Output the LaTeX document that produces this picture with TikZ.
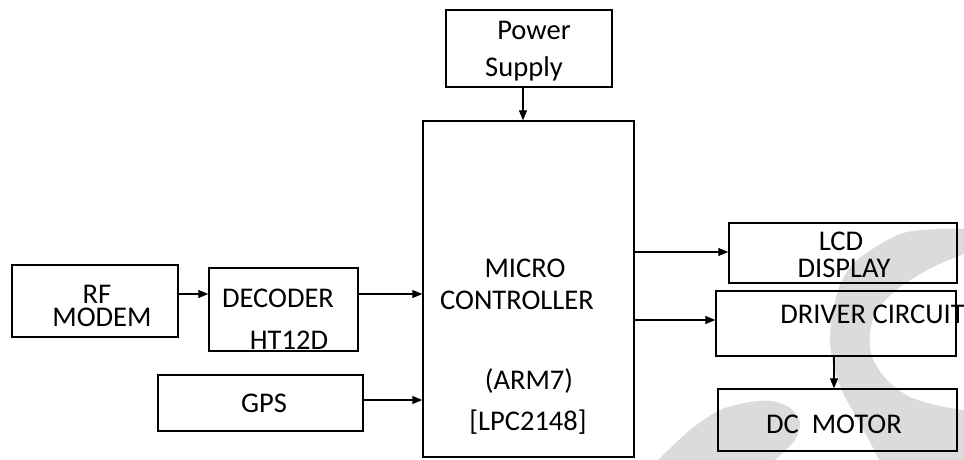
\documentclass[tikz,border=0pt]{standalone}
\usepackage{fontspec}
\setmainfont{Carlito}
\usetikzlibrary{arrows.meta,fit}
\tikzset{
  blk/.style={draw=black, line width=1pt, inner sep=0pt, fit={#1}},
  lbl/.style={anchor=base, inner sep=0pt, font=\fontsize{21.4}{24}\selectfont},
  arr/.style={draw=black, line width=0.8pt, -{Triangle[length=7.5pt,width=6pt]}},
  wm/.style={fill=black!14, draw=none}
}
\begin{document}
\begin{tikzpicture}[x=0.75pt,y=-0.75pt]
\useasboundingbox (0,0) rectangle (964,460);
\fill[white] (0,0) rectangle (964,460);
% watermark
\fill[wm] plot[smooth] coordinates {(964,229) (940,229) (900,234) (857,260) (840,285) (832,317) (830,342) (834,368) (843,393) (857,418) (870,442) (879,460)}
  -- (964,460) -- (964,410)
  -- plot[smooth] coordinates {(964,410) (940,406) (910,397) (887,380) (872,357) (870,333) (877,310) (900,287) (933,267) (964,254)} -- cycle;
\fill[wm] plot[smooth] coordinates {(658,460) (690,430) (720,410) (750,402) (772,401) (790,408) (800,422) (795,440) (775,460)} -- cycle;
% boxes
\node[blk={(12,265)(178,337)}] (rf) {};
\node[blk={(209,268)(358,351)}] (dec) {};
\node[blk={(158,375)(363,431)}] (gps) {};
\node[blk={(423,121)(634,457)}] (mc) {};
\node[blk={(446,10)(612,87)}] (ps) {};
\node[blk={(729,223)(957,283)}] (lcd) {};
\node[blk={(716,291)(956,356)}] (drv) {};
\node[blk={(718,389)(957,451)}] (dcm) {};
% labels
\node[lbl] (trf1) at (97,303) {RF};
\node[lbl] (trf2) at (102,326) {MODEM};
\node[lbl] (tdec1) at (278,307) {DECODER};
\node[lbl] (tdec2) at (289,349) {HT12D};
\node[lbl] (tgps) at (264,412) {GPS};
\node[lbl] (tmc1) at (525,277) {MICRO};
\node[lbl] (tmc2) at (517,309) {CONTROLLER};
\node[lbl] (tmc3) at (529,389) {(ARM7)};
\node[lbl] (tmc4) at (528,430) {[LPC2148]};
\node[lbl] (tps1) at (534,40) {Power};
\node[lbl] (tps2) at (524,77) {Supply};
\node[lbl] (tlcd1) at (841,250) {LCD};
\node[lbl] (tlcd2) at (844,277) {DISPLAY};
\node[lbl, anchor=base west] (tdrv) at (780,323) {DRIVER CIRCUIT};
\node[lbl] (tdcm) at (834,433) {DC\ \ MOTOR};
% connectors
\draw[arr] (rf.east |- 0,294) -- (dec.west |- 0,294);
\draw[arr] (dec.east |- 0,294) -- (mc.west |- 0,294);
\draw[arr] (gps.east |- 0,400) -- (mc.west |- 0,400);
\draw[arr] (ps.south -| 523,0) -- (mc.north -| 523,0);
\draw[arr] (mc.east |- 0,252) -- (lcd.west |- 0,252);
\draw[arr] (mc.east |- 0,320) -- (drv.west |- 0,320);
\draw[arr] (drv.south -| 834,0) -- (dcm.north -| 834,0);
\end{tikzpicture}
\end{document}
